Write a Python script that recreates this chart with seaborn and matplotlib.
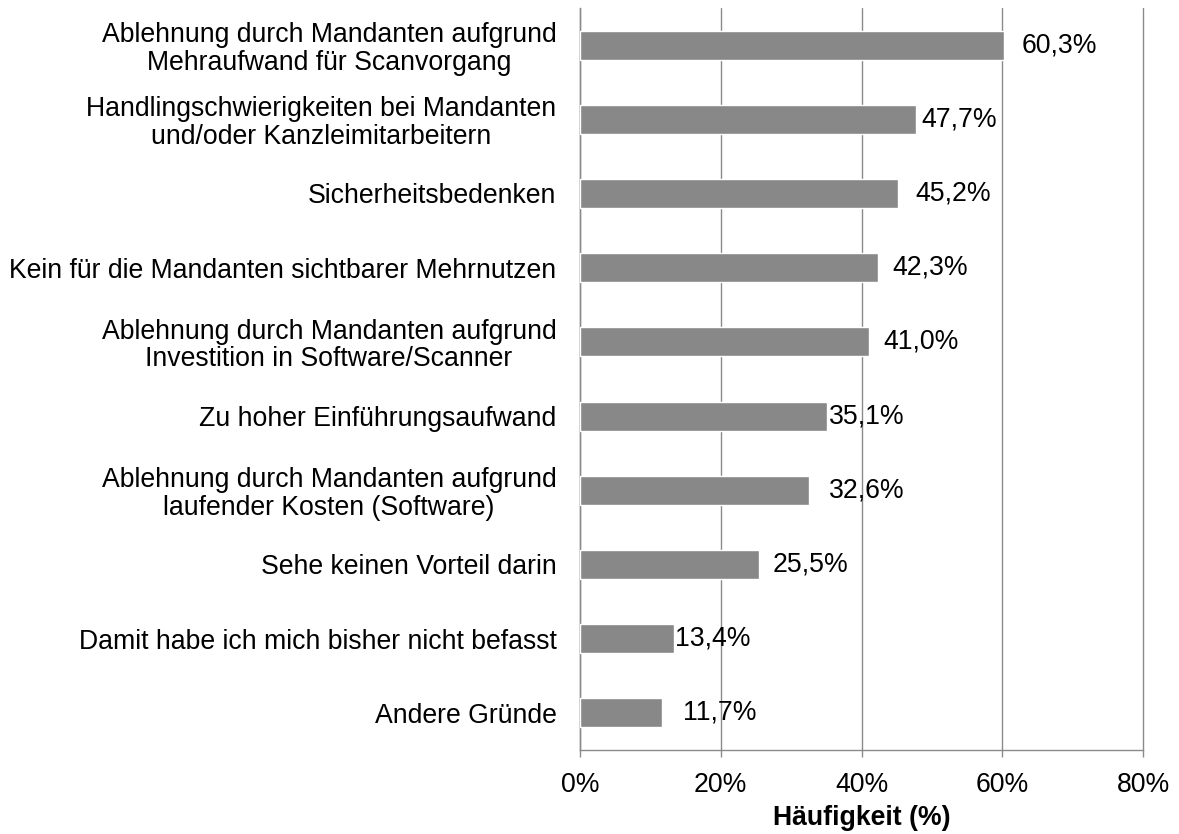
import matplotlib
matplotlib.use("Agg")
import matplotlib.pyplot as plt
import pandas as pd
import seaborn as sns

# Gründe gegen die Einführung (Werte in %)
categories = [
    "Ablehnung durch Mandanten aufgrund\nMehraufwand für Scanvorgang",
    "Handlingschwierigkeiten bei Mandanten\nund/oder Kanzleimitarbeitern",
    "Sicherheitsbedenken",
    "Kein für die Mandanten sichtbarer Mehrnutzen",
    "Ablehnung durch Mandanten aufgrund\nInvestition in Software/Scanner",
    "Zu hoher Einführungsaufwand",
    "Ablehnung durch Mandanten aufgrund\nlaufender Kosten (Software)",
    "Sehe keinen Vorteil darin",
    "Damit habe ich mich bisher nicht befasst",
    "Andere Gründe",
]
values = [60.3, 47.7, 45.2, 42.3, 41.0, 35.1, 32.6, 25.5, 13.4, 11.7]
x_ticks = [0, 20, 40, 60, 80]

# Abstand der Wertbeschriftung zum Balkenende (Pixel), wie im Original
label_pad = [17, 6, 17, 15, 15, 2, 20, 13, 1, 21]

df = pd.DataFrame({"Grund": categories, "Wert": values})

sns.set_style("white")
plt.rcParams["font.family"] = ["Liberation Sans", "DejaVu Sans"]
plt.rcParams["text.color"] = "black"
plt.rcParams["axes.labelcolor"] = "black"
plt.rcParams["xtick.labelcolor"] = "black"
plt.rcParams["ytick.labelcolor"] = "black"

FS = 19.2
GREY = "#8a8a8a"

fig = plt.figure(figsize=(11.79, 8.34), dpi=100)
ax = fig.add_axes([580 / 1179, 1 - 750 / 834, (1143 - 580) / 1179, (750 - 8) / 834])

sns.barplot(data=df, x="Wert", y="Grund", color="#888888", width=0.39,
            saturation=1, ax=ax, zorder=3)

ax.set_xlim(0, 80)
ax.set_xticks(x_ticks)
ax.set_xticklabels([f"{t}%" for t in x_ticks], fontsize=FS)
ax.grid(axis="x", color=GREY, linewidth=1.0, zorder=0)
ax.grid(axis="y", visible=False)
for gl in ax.get_xgridlines():
    gl.set_clip_on(False)

for s in ["top", "right"]:
    ax.spines[s].set_visible(False)
for s in ["left", "bottom"]:
    ax.spines[s].set_color(GREY)
    ax.spines[s].set_linewidth(1.0)

ax.tick_params(axis="x", direction="out", length=5, width=1, color=GREY,
               bottom=True, pad=11)
ax.tick_params(axis="y", length=0, pad=17)
for lbl in ax.get_yticklabels():
    lbl.set_fontsize(FS)
    lbl.set_multialignment("center")
    lbl.set_linespacing(1.08)

ax.set_ylabel("")
ax.set_xlabel("Häufigkeit (%)", fontsize=FS, fontweight="bold", labelpad=5)

for i, (v, p) in enumerate(zip(values, label_pad)):
    ax.annotate(f"{v:.1f}%".replace(".", ","), xy=(v, i), xytext=(p * 0.72, 0),
                textcoords="offset points", ha="left", va="center",
                fontsize=FS, zorder=4)

fig.savefig("out.png", dpi=100)
